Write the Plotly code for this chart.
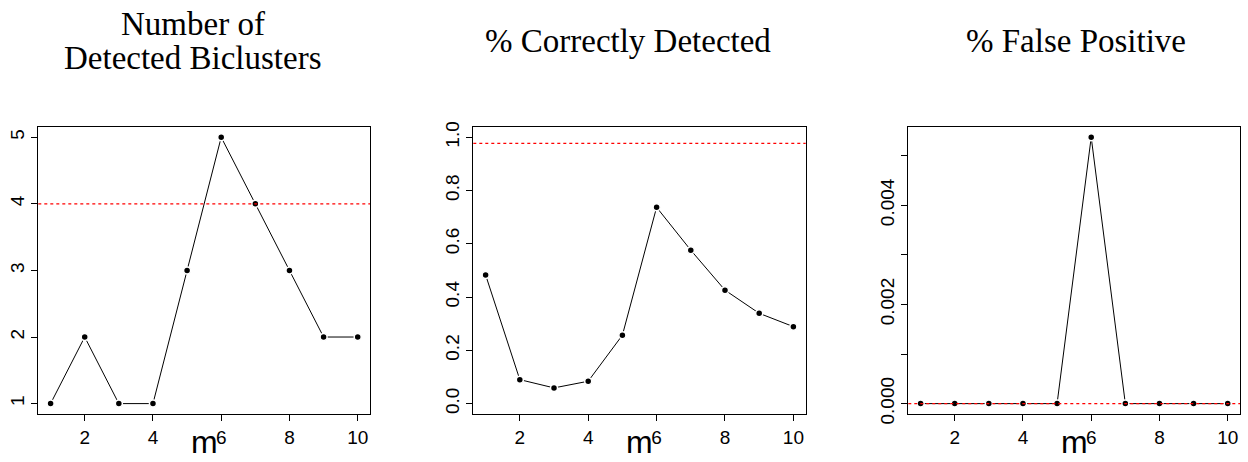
import plotly.graph_objects as go

m = [1, 2, 3, 4, 5, 6, 7, 8, 9, 10]
n_detected = [1, 2, 1, 1, 3, 5, 4, 3, 2, 2]
pct_correct = [0.483, 0.090, 0.059, 0.084, 0.257, 0.737, 0.576, 0.426, 0.339, 0.289]
pct_false_pos = [0, 0, 0, 0, 0, 0.00537, 0, 0, 0, 0]
ref_lines = [4, 0.977, 0.0]
titles = [["Number of", "Detected Biclusters"], ["% Correctly Detected"], ["% False Positive"]]
xtick_vals = [2, 4, 6, 8, 10]
ytick_vals = [[1, 2, 3, 4, 5], [0.0, 0.2, 0.4, 0.6, 0.8, 1.0],
              [0, 0.001, 0.002, 0.003, 0.004, 0.005]]
ytick_text = [["1", "2", "3", "4", "5"], ["0.0", "0.2", "0.4", "0.6", "0.8", "1.0"],
              ["0.000", "", "0.002", "", "0.004", ""]]
series = [n_detected, pct_correct, pct_false_pos]

W, H = 1248, 462
xdoms = [(38.3 / W, 370 / W), (473.3 / W, 805.7 / W), (908.3 / W, 1240 / W)]
ydom = (1 - 423 / H, 1 - 125.7 / H)

fig = go.Figure()
sans = "Liberation Sans, Arial, sans-serif"
serif = "Liberation Serif, DejaVu Serif, serif"

for i, ys in enumerate(series):
    xa = "x" if i == 0 else f"x{i+1}"
    ya = "y" if i == 0 else f"y{i+1}"
    fig.add_trace(go.Scatter(
        x=m, y=ys, xaxis=xa, yaxis=ya, mode="lines+markers",
        line=dict(color="black", width=1),
        marker=dict(color="black", size=7, line=dict(color="white", width=1.5)),
        showlegend=False, cliponaxis=False))
    lo, hi = min(ys), max(ys)
    if i == 1:
        lo, hi = 0.0, 1.0
    pad = (hi - lo) * 0.04
    axx = dict(domain=list(xdoms[i]), range=[0.64, 10.36], tickmode="array",
               tickvals=xtick_vals, ticks="outside", ticklen=6, tickcolor="black",
               showline=True, linecolor="black", linewidth=1, mirror=True,
               showgrid=False, zeroline=False,
               tickfont=dict(family=sans, size=19, color="black"),
               anchor=ya)
    axy = dict(domain=list(ydom), range=[lo - pad, hi + pad], tickmode="array",
               tickvals=ytick_vals[i], ticktext=ytick_text[i], tickangle=-90,
               ticks="outside", ticklen=6, tickcolor="black",
               showline=True, linecolor="black", linewidth=1, mirror=True,
               showgrid=False, zeroline=False,
               tickfont=dict(family=sans, size=19, color="black"),
               anchor=xa)
    key = "" if i == 0 else str(i + 1)
    fig.update_layout(**{f"xaxis{key}": axx, f"yaxis{key}": axy})
    fig.add_shape(type="line", xref=f"{xa} domain", yref=ya, x0=0, x1=1,
                  y0=ref_lines[i], y1=ref_lines[i],
                  line=dict(color="#ff0000", width=1.4, dash="dot"), layer="above")
    cx = (xdoms[i][0] + xdoms[i][1]) / 2
    fig.add_annotation(x=cx, y=1 - 452 / H, xref="paper", yref="paper", text="m",
                       showarrow=False, font=dict(family=sans, size=32, color="black"),
                       yanchor="middle", xanchor="center")
    tx = [193 / W, 628 / W, 1076 / W][i]
    lines = titles[i]
    ypos = [20, 55] if len(lines) == 2 else [37]
    for line, yp in zip(lines, ypos):
        fig.add_annotation(x=tx, y=1 - yp / H, xref="paper", yref="paper", text=line,
                           showarrow=False, font=dict(family=serif, size=33, color="black"),
                           yanchor="middle", xanchor="center")

fig.update_layout(width=W, height=H, margin=dict(l=0, r=0, t=0, b=0),
                  plot_bgcolor="white", paper_bgcolor="white")
fig.write_html("out.html", config={"displayModeBar": False},
               post_script="document.body.style.margin='0';")
